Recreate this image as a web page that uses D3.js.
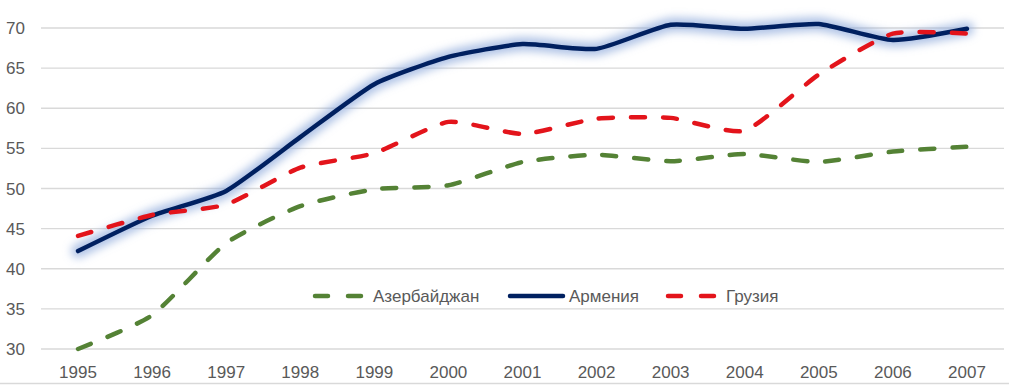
<!DOCTYPE html>
<html lang="ru">
<head>
<meta charset="utf-8">
<title>Chart</title>
<script src="https://d3js.org/d3.v7.min.js"></script>
<style>
  body { margin: 0; background: #fff; }
  svg text { font-family: "Liberation Sans", Arial, sans-serif; fill: #595959; }
</style>
</head>
<body>
<div id="chart"></div>
<script>
// data
const years = ["1995","1996","1997","1998","1999","2000","2001","2002","2003","2004","2005","2006","2007"];
const azerbaijan = [30.0, 34.2, 43.2, 47.8, 49.9, 50.4, 53.3, 54.2, 53.4, 54.3, 53.3, 54.6, 55.2];
const armenia    = [42.2, 46.6, 49.7, 56.4, 63.0, 66.4, 68.0, 67.4, 70.4, 69.9, 70.5, 68.5, 69.9];
const georgia    = [44.1, 46.7, 48.0, 52.6, 54.4, 58.3, 56.8, 58.7, 58.8, 57.2, 64.2, 69.3, 69.3];
const yTicks = [30, 35, 40, 45, 50, 55, 60, 65, 70];

const series = [
  {name: "Азербайджан", values: azerbaijan, color: "#548235", dash: "14 18"},
  {name: "Армения", values: armenia, color: "#002060", dash: null, glow: true},
  {name: "Грузия", values: georgia, color: "#e3141b", dash: "14 18"}
];

const W = 1009, H = 385;
const margin = {top: 28, right: 5, bottom: 36, left: 41};

const svg = d3.select("#chart").append("svg")
  .attr("width", W).attr("height", H);

const defs = svg.append("defs");
const f = defs.append("filter").attr("id", "glow")
  .attr("x", "-10%").attr("y", "-10%").attr("width", "120%").attr("height", "120%");
f.append("feGaussianBlur").attr("stdDeviation", 4);

const x = d3.scalePoint()
  .domain(years)
  .range([margin.left, W - margin.right])
  .padding(0.5);

const y = d3.scaleLinear()
  .domain([30, 70])
  .range([H - margin.bottom, margin.top]);

// gridlines
svg.append("g")
  .selectAll("line")
  .data(yTicks)
  .join("line")
    .attr("x1", margin.left).attr("x2", W - margin.right)
    .attr("y1", d => y(d)).attr("y2", d => y(d))
    .attr("stroke", "#d9d9d9").attr("stroke-width", 1.3);

// bottom frame line
svg.append("line")
  .attr("x1", 0).attr("x2", W).attr("y1", H - 1.5).attr("y2", H - 1.5)
  .attr("stroke", "#d9d9d9").attr("stroke-width", 1.3);

// y labels
svg.append("g")
  .selectAll("text")
  .data(yTicks)
  .join("text")
    .attr("x", 25).attr("y", d => y(d))
    .attr("dy", "0.36em")
    .attr("text-anchor", "end")
    .style("font-size", "17px")
    .text(d => d);

// x labels
svg.append("g")
  .selectAll("text")
  .data(years)
  .join("text")
    .attr("x", d => x(d)).attr("y", H - 7)
    .attr("text-anchor", "middle")
    .style("font-size", "17px")
    .text(d => d);

const line = d3.line()
  .x((d, i) => x(years[i]))
  .y(d => y(d))
  .curve(d3.curveCardinal.tension(0.45));

series.forEach(s => {
  if (s.glow) {
    svg.append("path")
      .attr("d", line(s.values))
      .attr("fill", "none")
      .attr("stroke", "#8ea9db")
      .attr("stroke-opacity", 0.7)
      .attr("stroke-width", 14)
      .attr("stroke-linejoin", "round")
      .attr("stroke-linecap", "round")
      .attr("filter", "url(#glow)");
  }
  svg.append("path")
    .attr("d", line(s.values))
    .attr("fill", "none")
    .attr("stroke", s.color)
    .attr("stroke-width", 4.5)
    .attr("stroke-linecap", "round")
    .attr("stroke-linejoin", "round")
    .attr("stroke-dasharray", s.dash);
});

// legend
const legendX = [313, 508, 666];
const legend = svg.append("g");
series.forEach((s, i) => {
  const g = legend.append("g").attr("transform", `translate(${legendX[i]}, 296)`);
  g.append("line")
    .attr("x1", 2).attr("x2", s.dash ? 52 : 55)
    .attr("y1", 0).attr("y2", 0)
    .attr("stroke", s.color)
    .attr("stroke-width", 4.5)
    .attr("stroke-linecap", "round")
    .attr("stroke-dasharray", s.dash ? "13 20" : null);
  g.append("text")
    .attr("x", s.dash ? 60 : 61).attr("y", 0)
    .attr("dy", "0.36em")
    .style("font-size", "17px")
    .text(s.name);
});
</script>
</body>
</html>
